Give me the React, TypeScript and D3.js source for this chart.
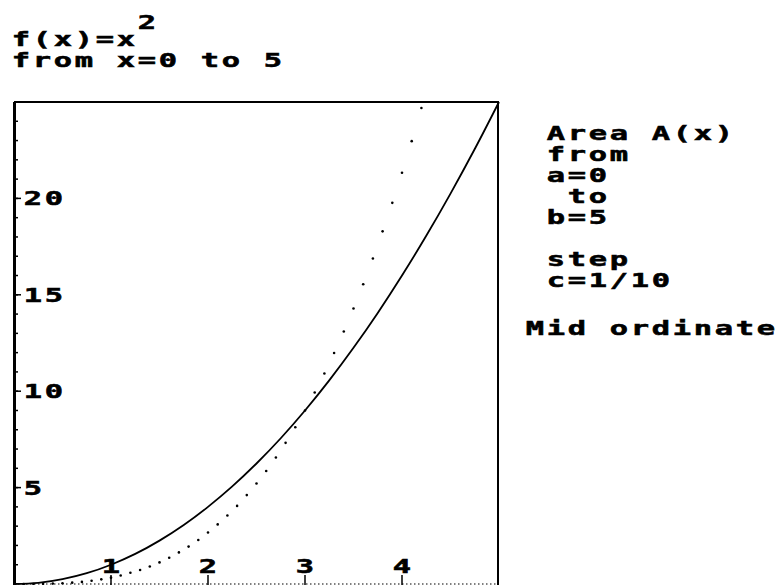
import React from "react";
import * as d3 from "d3";

// f(x) = x^2, sampled every 0.25 (solid curve)
const curveX = [0, 0.25, 0.5, 0.75, 1, 1.25, 1.5, 1.75, 2, 2.25, 2.5, 2.75, 3, 3.25, 3.5, 3.75, 4, 4.25, 4.5, 4.75, 5];
const curveY = [0, 0.06, 0.25, 0.56, 1, 1.56, 2.25, 3.06, 4, 5.06, 6.25, 7.56, 9, 10.56, 12.25, 14.06, 16, 18.06, 20.25, 22.56, 25];

// area A(x), mid ordinate, step 1/10 (dotted points)
const areaX = [
  0.1, 0.2, 0.3, 0.4, 0.5, 0.6, 0.7, 0.8, 0.9, 1.0,
  1.1, 1.2, 1.3, 1.4, 1.5, 1.6, 1.7, 1.8, 1.9, 2.0,
  2.1, 2.2, 2.3, 2.4, 2.5, 2.6, 2.7, 2.8, 2.9, 3.0,
  3.1, 3.2, 3.3, 3.4, 3.5, 3.6, 3.7, 3.8, 3.9, 4.0,
  4.1, 4.2,
];
const areaY = [
  0.0, 0.0, 0.01, 0.02, 0.04, 0.07, 0.11, 0.17, 0.24, 0.33,
  0.44, 0.58, 0.73, 0.91, 1.12, 1.36, 1.64, 1.94, 2.28, 2.67,
  3.09, 3.55, 4.05, 4.61, 5.21, 5.86, 6.56, 7.32, 8.13, 9.0,
  9.93, 10.92, 11.98, 13.1, 14.29, 15.55, 16.88, 18.29, 19.77, 21.33,
  22.97, 24.69,
];

const xLabels = ["1", "2", "3", "4"];
const yLabels = ["5", "10", "15", "20"];
const yMinorTicks = d3.range(1, 26);

const titleLines = ["f(x)=x", "from x=0 to 5"];
const infoLines = ["Area A(x)", "from", "a=0", " to", "b=5", "", "step", "c=1/10"];
const methodLabel = "Mid ordinate";

// calculator-style text: every character sits in a 21px cell
const CELL = 21;

function PixelText({ x, y, text, center = false }) {
  const chars = text.split("");
  const start = center ? x - (chars.length * CELL - 5) / 2 : x;
  return (
    <g>
      {chars.map((c, i) =>
        c === " " ? null : (
          <text
            key={i}
            transform={`translate(${start + i * CELL + 8},${y}) scale(1.6,1)`}
            textAnchor="middle"
            fontFamily="DejaVu Sans Mono"
            fontWeight="bold"
            fontSize={19}
            fill="#000"
            stroke="#000"
            strokeWidth={0.55}
          >
            {c}
          </text>
        )
      )}
    </g>
  );
}

export default function App() {
  const width = 779;
  const height = 585;
  const left = 14;
  const right = 499;
  const top = 102;
  const bottom = 584;

  const x = d3.scaleLinear().domain([0, 5]).range([left, right]);
  const y = d3.scaleLinear().domain([0, 25]).range([bottom, top]);

  const line = d3
    .line()
    .x((d) => x(d[0]))
    .y((d) => y(d[1]))
    .curve(d3.curveMonotoneX);

  const curvePath = line(curveX.map((v, i) => [v, curveY[i]]));

  return (
    <svg
      width={width}
      height={height}
      style={{ position: "absolute", left: 0, top: 0, background: "#fff" }}
    >
      {/* title */}
      <PixelText x={139} y={29} text="2" />
      {titleLines.map((t, i) => (
        <PixelText key={t} x={13} y={46 + i * 21} text={t} />
      ))}

      {/* frame */}
      <line x1={left} x2={right} y1={top} y2={top} stroke="#000" strokeWidth={2} />
      <line x1={left + 0.5} x2={left + 0.5} y1={top} y2={height} stroke="#000" strokeWidth={3} />
      <line x1={right - 1} x2={right - 1} y1={top} y2={height} stroke="#000" strokeWidth={2} />

      {/* y ticks */}
      {yMinorTicks.map((v) => (
        <line key={v} x1={left} x2={left + 4} y1={y(v)} y2={y(v)} stroke="#000" strokeWidth={1.5} />
      ))}
      {yLabels.map((l) => (
        <g key={l}>
          <line x1={left} x2={left + 7} y1={y(+l)} y2={y(+l)} stroke="#000" strokeWidth={1.5} />
          <PixelText x={25} y={y(+l) + 7} text={l} />
        </g>
      ))}

      {/* x axis, dotted */}
      <line
        x1={left}
        x2={right - 2}
        y1={bottom}
        y2={bottom}
        stroke="#000"
        strokeWidth={1.2}
        strokeDasharray="1.5 2.5"
      />
      {xLabels.map((l) => (
        <g key={l}>
          <line x1={x(+l)} x2={x(+l)} y1={bottom - 9} y2={height} stroke="#000" strokeWidth={1.5} />
          <PixelText x={x(+l)} y={bottom - 11} text={l} center />
        </g>
      ))}

      {/* f(x) */}
      <path d={curvePath} fill="none" stroke="#000" strokeWidth={1.8} />

      {/* A(x) */}
      {areaX.map((v, i) => (
        <circle key={v} cx={x(v)} cy={y(areaY[i])} r={1.3} fill="#000" />
      ))}

      {/* info panel */}
      {infoLines.map((t, i) =>
        t ? <PixelText key={i} x={548} y={140 + i * 21} text={t} /> : null
      )}
      <PixelText x={527} y={335} text={methodLabel} />
    </svg>
  );
}
